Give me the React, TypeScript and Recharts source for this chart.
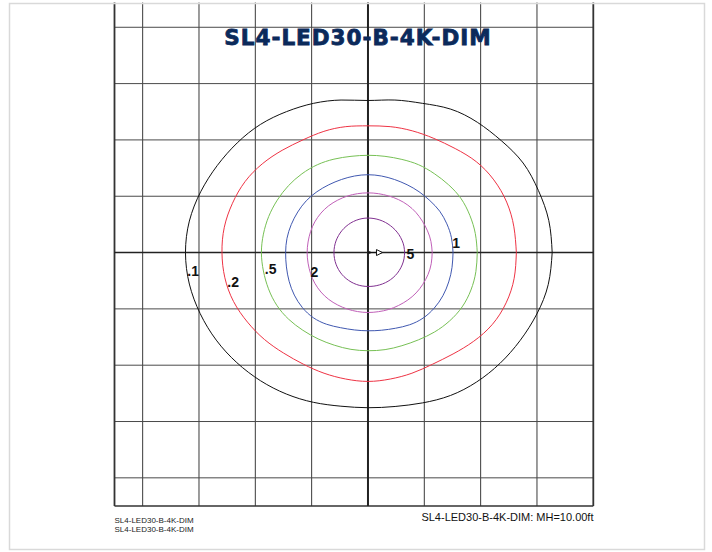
import React from 'react';
import { LineChart, Line, XAxis, YAxis, ReferenceLine, ReferenceDot } from 'recharts';

const titleText = 'SL4-LED30-B-4K-DIM';
const footerLeft = ['SL4-LED30-B-4K-DIM', 'SL4-LED30-B-4K-DIM'];
const footerRight = 'SL4-LED30-B-4K-DIM: MH=10.00ft';

const gridX = [-4, -3, -2, -1, 1, 2, 3];
const gridY = [-4, -3, -2, -1, 1, 2, 3, 4];
const edgeX = [-4.5, 4];
const edgeY = [-4.5];

// contour readings: distance from the luminaire (grid units) every 10 degrees, counter-clockwise from +x
const angles = [0, 10, 20, 30, 40, 50, 60, 70, 80, 90, 100, 110, 120, 130, 140, 150, 160, 170,
  180, 190, 200, 210, 220, 230, 240, 250, 260, 270, 280, 290, 300, 310, 320, 330, 340, 350];

const r01 = [3.27, 3.26, 3.22, 3.18, 3.09, 3.02, 2.94, 2.82, 2.75, 2.70, 2.75, 2.82, 2.89, 2.97, 3.03, 3.09, 3.16, 3.22,
  3.24, 3.22, 3.17, 3.11, 3.04, 2.97, 2.90, 2.83, 2.77, 2.755, 2.775, 2.84, 2.93, 3.00, 3.06, 3.12, 3.19, 3.25];
const r02 = [2.634, 2.63, 2.62, 2.58, 2.51, 2.41, 2.34, 2.30, 2.27, 2.25, 2.27, 2.29, 2.31, 2.37, 2.45, 2.52, 2.56, 2.59,
  2.592, 2.58, 2.54, 2.47, 2.40, 2.33, 2.29, 2.28, 2.28, 2.288, 2.28, 2.28, 2.29, 2.35, 2.45, 2.55, 2.61, 2.635];
const r05 = [1.94, 1.935, 1.925, 1.91, 1.87, 1.83, 1.80, 1.76, 1.735, 1.727, 1.735, 1.765, 1.80, 1.825, 1.845, 1.86, 1.875, 1.885,
  1.892, 1.885, 1.88, 1.87, 1.84, 1.80, 1.77, 1.75, 1.745, 1.743, 1.75, 1.76, 1.79, 1.84, 1.89, 1.93, 1.945, 1.945];
const r1 = [1.51, 1.505, 1.49, 1.47, 1.435, 1.41, 1.39, 1.38, 1.38, 1.382, 1.38, 1.38, 1.39, 1.41, 1.43, 1.44, 1.45, 1.46,
  1.462, 1.47, 1.49, 1.51, 1.52, 1.51, 1.47, 1.42, 1.395, 1.389, 1.40, 1.43, 1.48, 1.52, 1.535, 1.535, 1.525, 1.515];
const r2 = [1.14, 1.135, 1.125, 1.115, 1.11, 1.10, 1.085, 1.07, 1.062, 1.06, 1.062, 1.068, 1.075, 1.085, 1.09, 1.09, 1.085, 1.08,
  1.08, 1.08, 1.085, 1.09, 1.09, 1.085, 1.075, 1.068, 1.064, 1.064, 1.066, 1.075, 1.085, 1.10, 1.115, 1.125, 1.135, 1.14];
const r5 = [0.65, 0.648, 0.642, 0.635, 0.628, 0.622, 0.618, 0.615, 0.613, 0.613, 0.612, 0.61, 0.608, 0.606, 0.605, 0.604, 0.604, 0.604,
  0.604, 0.604, 0.604, 0.604, 0.604, 0.603, 0.602, 0.602, 0.602, 0.602, 0.605, 0.61, 0.618, 0.626, 0.634, 0.64, 0.645, 0.649];

const levelNames = ['.1', '.2', '.5', '1', '2', '5'];
const levelColors = ['#111111', '#ee3344', '#77c055', '#4058b0', '#c060b8', '#803090'];
const levelRadii = [r01, r02, r05, r1, r2, r5];

const labelText = ['.1', '.2', '.5', '2', '5', '1'];
const labelX = [-3.103, -2.393, -1.727, -0.95, 0.755, 1.566];
const labelY = [-0.335, -0.518, -0.293, -0.341, -0.027, 0.17];

const toPoints = (radii: number[]) => {
  const pts = angles.map((a, i) => ({
    x: radii[i] * Math.cos((a * Math.PI) / 180),
    y: radii[i] * Math.sin((a * Math.PI) / 180),
  }));
  pts.push(pts[0]);
  return pts;
};

const contours = levelNames.map((n, i) => ({ name: n, color: levelColors[i], data: toPoints(levelRadii[i]) }));

const W = 712;
const H = 552;

const Arrow = (p: any) => {
  const cx = p.cx;
  const cy = p.cy;
  return (
    <g>
      <circle cx={cx + 1.5} cy={cy} r={1.3} fill="#111" />
      <line x1={cx + 2} y1={cy} x2={cx + 8.5} y2={cy} stroke="#111" strokeWidth={1} />
      <path d={`M${cx + 8.5},${cy - 3} L${cx + 14.5},${cy} L${cx + 8.5},${cy + 3} Z`} fill="#fff" stroke="#111" strokeWidth={1} />
    </g>
  );
};

export default function App() {
  return (
    <div style={{ position: 'absolute', left: 0, top: 0, width: W, height: H, background: '#fff' }}>
      <LineChart
        width={W}
        height={H}
        margin={{ top: 2.5, right: 118.7, bottom: 46, left: 114.5 }}
      >
        <XAxis type="number" dataKey="x" domain={[-4.5, 4]} allowDataOverflow hide />
        <YAxis type="number" dataKey="y" domain={[-4.5, 4.44]} allowDataOverflow hide />
        {gridX.map((v) => (
          <ReferenceLine key={'gx' + v} x={v} stroke="#3a3a3a" strokeWidth={1} />
        ))}
        {gridY.map((v) => (
          <ReferenceLine key={'gy' + v} y={v} stroke="#4a4a4a" strokeWidth={1} />
        ))}
        {edgeX.map((v) => (
          <ReferenceLine key={'ex' + v} x={v} stroke="#333" strokeWidth={1.8} />
        ))}
        {edgeY.map((v) => (
          <ReferenceLine key={'ey' + v} y={v} stroke="#333" strokeWidth={1.6} />
        ))}
        <ReferenceLine x={0} stroke="#222" strokeWidth={2} />
        <ReferenceLine y={0} stroke="#222" strokeWidth={1.6} />
        {contours.map((c) => (
          <Line
            key={c.name}
            data={c.data}
            dataKey="y"
            type="natural"
            stroke={c.color}
            strokeWidth={1}
            dot={false}
            activeDot={false}
            isAnimationActive={false}
          />
        ))}
        <ReferenceDot x={0} y={0} r={1} shape={Arrow} />
        {labelText.map((t, i) => (
          <ReferenceDot
            key={'lb' + i}
            x={labelX[i]}
            y={labelY[i]}
            r={1}
            shape={(p: any) => (
              <text
                x={p.cx}
                y={p.cy + 5}
                textAnchor="middle"
                fontFamily="'Liberation Sans', Arial, sans-serif"
                fontWeight="bold"
                fontSize={14}
                fill="#111"
              >
                {t}
              </text>
            )}
          />
        ))}
      </LineChart>
      <svg
        width={W}
        height={H}
        style={{ position: 'absolute', left: 0, top: 0, pointerEvents: 'none' }}
      >
        <rect x={9.5} y={3.5} width={695} height={546} fill="none" stroke="#d9d9d9" strokeWidth={1.5} />
        <text
          x={358}
          y={45}
          textAnchor="middle"
          fontFamily="'DejaVu Sans', sans-serif"
          fontWeight="bold"
          fontSize={21.5}
          letterSpacing={1}
          fill="#0b2a5b"
          stroke="#0b2a5b"
          strokeWidth={0.8}
        >
          {titleText}
        </text>
        {footerLeft.map((t, i) => (
          <text
            key={'fl' + i}
            x={114.5}
            y={523 + i * 9}
            fontFamily="'Liberation Sans', Arial, sans-serif"
            fontSize={8}
            fill="#222"
          >
            {t}
          </text>
        ))}
        <text
          x={593.5}
          y={520.7}
          textAnchor="end"
          fontFamily="'Liberation Sans', Arial, sans-serif"
          fontSize={11}
          fill="#111"
        >
          {footerRight}
        </text>
      </svg>
    </div>
  );
}
